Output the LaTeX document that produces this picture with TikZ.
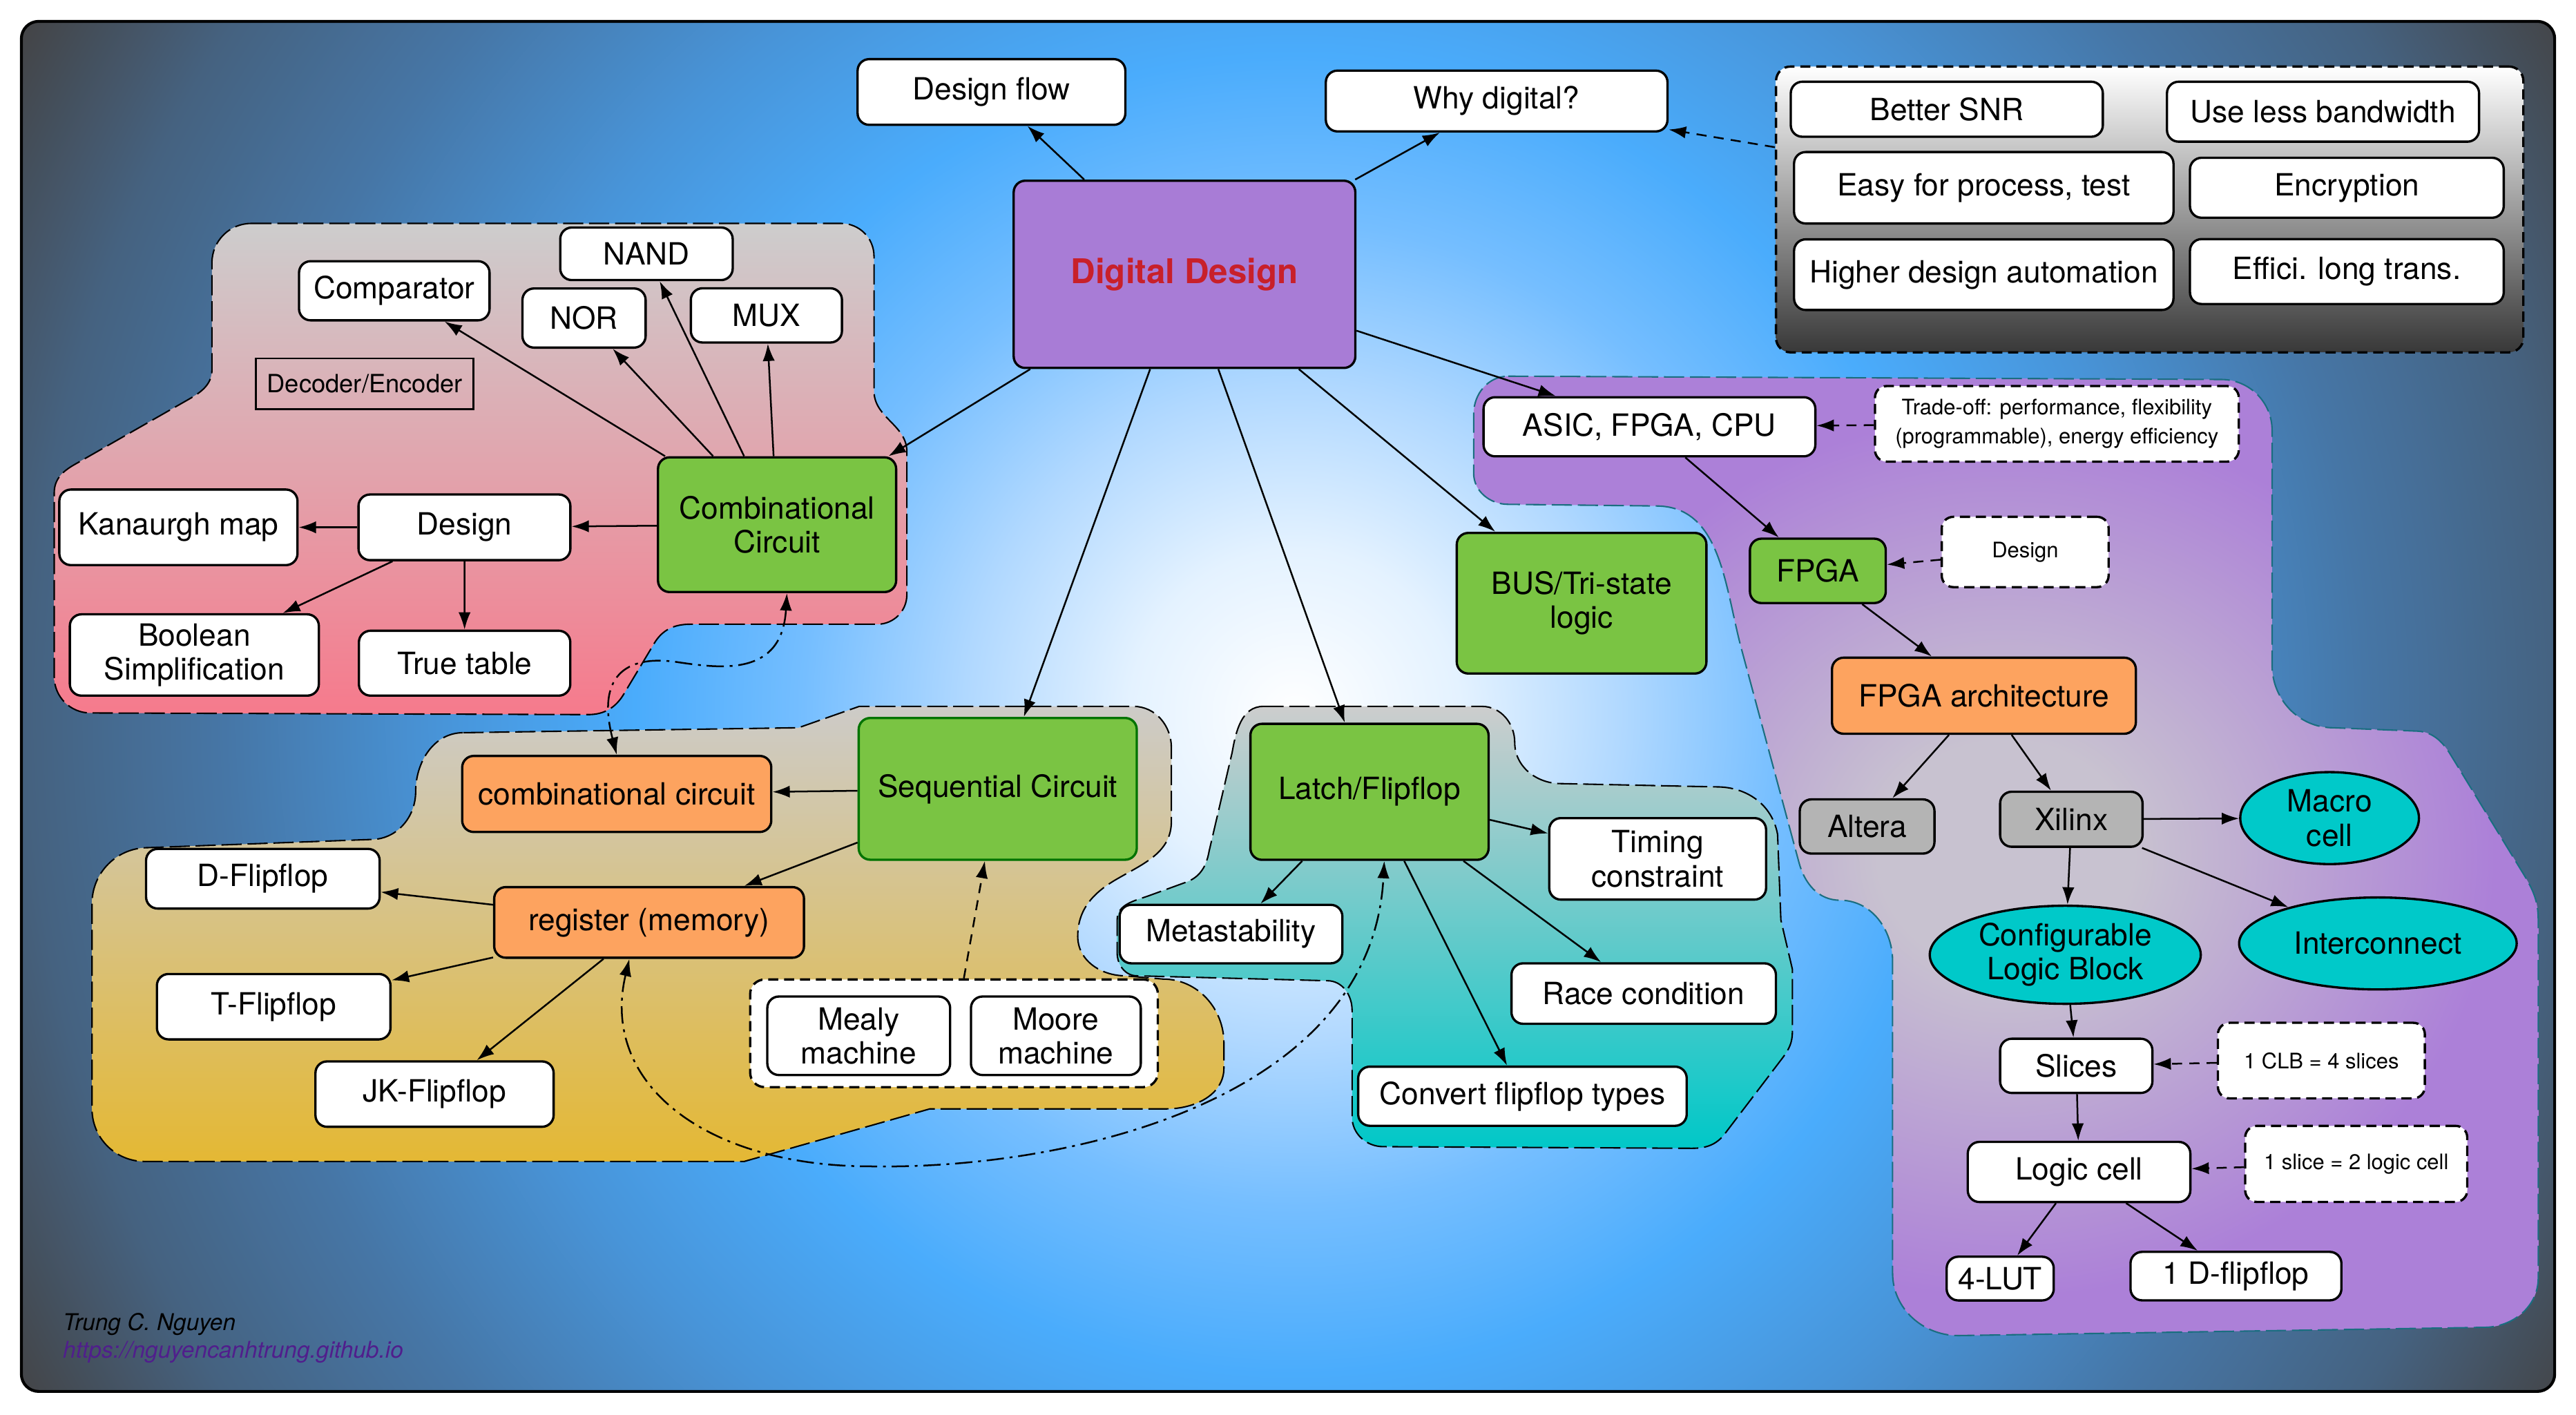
\documentclass[tikz,border=0pt]{standalone}
\usepackage{fontspec}
\setmainfont{TeX Gyre Heros}
\usetikzlibrary{arrows.meta, shapes.geometric, calc}

\newcommand{\boxfont}{\fontsize{10.6}{11.8}\selectfont}
\newcommand{\smallnotefont}{\fontsize{7.4}{10}\selectfont}
\newcommand{\decfont}{\fontsize{8.7}{10}\selectfont}
\newcommand{\titlefont}{\fontsize{11.8}{14}\selectfont\bfseries}
\newcommand{\signfont}{\fontsize{8}{10}\selectfont\itshape}

\begin{document}
\begin{tikzpicture}[x=0.02cm, y=-0.02cm,
	sz/.style 2 args={minimum width=#1*0.2mm, minimum height=#2*0.2mm},
	box/.style={draw, fill=white, rounded corners=4pt, line width=0.8pt, inner sep=2pt, align=center, font=\boxfont},
	greenbox/.style={box, fill=cgreen},
	orangebox/.style={box, fill=corange},
	greybox/.style={box, fill=cgrey},
	cellipse/.style={draw, ellipse, fill=ccyan, line width=0.8pt, inner sep=1pt, align=center, font=\boxfont},
	memo/.style={box, dash pattern=on 3.5pt off 2pt, font=\smallnotefont},
	panelbox/.style={draw, dash pattern=on 3.5pt off 2pt, rounded corners=5pt, line width=0.8pt},
	grp/.style={draw=black, line width=0.5pt, dash pattern=on 7pt off 2pt},
	arr/.style={-{Latex[length=6pt,width=4.2pt]}, line width=0.6pt},
	darr/.style={arr, dash pattern=on 3.5pt off 2.5pt},
	ddarr/.style={{Latex[length=6pt,width=4.2pt]}-{Latex[length=6pt,width=4.2pt]}, line width=0.6pt, dash pattern=on 6pt off 2pt on 1pt off 2pt}]
	% Colors
	\definecolor{bgA}{RGB}{228,242,255}
	\definecolor{bgB}{RGB}{176,216,255}
	\definecolor{bgC}{RGB}{117,190,255}
	\definecolor{bgD}{RGB}{74,172,252}
	\definecolor{bgE}{RGB}{72,148,216}
	\definecolor{bgF}{RGB}{70,118,166}
	\definecolor{bgG}{RGB}{69,98,128}
	\definecolor{bgH}{RGB}{68,68,70}
	\definecolor{cgreen}{RGB}{122,196,67}
	\definecolor{corange}{RGB}{253,163,95}
	\definecolor{cgrey}{RGB}{180,180,180}
	\definecolor{ccyan}{RGB}{0,201,201}
	\definecolor{cpurple}{RGB}{168,124,214}
	\definecolor{cred}{RGB}{200,32,42}
	\definecolor{curl}{RGB}{80,30,140}
	\definecolor{pinktop}{RGB}{205,205,205}
	\definecolor{pinkbot}{RGB}{246,122,140}
	\definecolor{tantop}{RGB}{205,203,200}
	\definecolor{tanbot}{RGB}{228,184,52}
	\definecolor{tealtop}{RGB}{205,205,205}
	\definecolor{tealbot}{RGB}{0,200,200}
	\definecolor{purin}{RGB}{200,194,208}
	\definecolor{purout}{RGB}{172,128,216}
	\definecolor{grpteal}{RGB}{26,110,128}
	\pgfdeclareradialshading{bgglow}{\pgfpoint{0bp}{0bp}}{color(0bp)=(white); color(2.85bp)=(bgA); color(5.7bp)=(bgB); color(8.5bp)=(bgC); color(11.4bp)=(bgD); color(14.8bp)=(bgE); color(18.5bp)=(bgF); color(21.9bp)=(bgG); color(25bp)=(bgH); color(50bp)=(bgH)}
	\pgfdeclareradialshading{purglow}{\pgfpoint{0bp}{0bp}}{color(0bp)=(purin); color(6bp)=(purin); color(23bp)=(purout); color(50bp)=(purout)}
	
	\useasboundingbox (0,0) rectangle (1568,861.3);
	
	% Background
	\begin{scope}
		\clip[rounded corners=6pt] (13,13) rectangle (1555,847);
		\shade[shading=bgglow] (-92,-445) rectangle (1668,1315);
	\end{scope}
	\draw[line width=1pt, rounded corners=6pt] (13,13) rectangle (1555,847);
	
	% Groups
	\path[grp, top color=pinktop, bottom color=pinkbot] (153,136) -- (512,136) to[out=0,in=90] (532,156) -- (532,238) to[out=-90,in=90] (552,275) -- (552,362) to[out=-90,in=0] (534,380) -- (420,380) to[out=180,in=60] (398,392) -- (380,422) to[out=240,in=0] (358,435) -- (55,434) to[out=180,in=-90] (33,412) -- (33,300) to[out=90,in=210] (45,283) -- (115,243) to[out=30,in=-90] (129,225) -- (129,160) to[out=90,in=180] (153,136) -- cycle;
	\path[grp, top color=tantop, bottom color=tanbot] (282,446) -- (486,443) -- (523,430) -- (690,430) to[out=0,in=90] (713,455) -- (713,500) to[out=-90,in=30] (680,535) to[out=210,in=90] (656,570) to[out=-90,in=180] (685,594) -- (708,596) to[out=0,in=90] (745,635) -- (745,650) to[out=-90,in=0] (710,675) -- (566,675) -- (453,707) -- (88,707) to[out=180,in=-90] (56,675) -- (56,550) to[out=90,in=180] (90,516) -- (226,511) to[out=0,in=-90] (253,482) to[out=90,in=180] (282,446) -- cycle;
	\path[grp, top color=tealtop, bottom color=tealbot] (769,430) -- (902,430) to[out=0,in=90] (922,452) to[out=-90,in=180] (950,477) -- (1045,479) to[out=0,in=100] (1082,508) -- (1084,560) -- (1091,590) -- (1091,628) to[out=-90,in=53] (1085,644) -- (1050,690) to[out=233,in=0] (1030,699) -- (842,698) to[out=180,in=-90] (823,680) -- (823,615) to[out=90,in=0] (808,597) -- (692,594) to[out=180,in=-90] (680,580) -- (680,560) to[out=90,in=200] (700,545) -- (722,537) to[out=20,in=-100] (736,518) -- (750,458) to[out=80,in=180] (769,430) -- cycle;
	\path[grp, draw=grpteal, shading=purglow] (918,229) -- (1352,231) to[out=0,in=90] (1383,262) -- (1383,405) to[out=-90,in=180] (1420,443) -- (1470,445) to[out=0,in=121] (1492,460) -- (1536,532) to[out=-59,in=90] (1545,560) -- (1545,778) to[out=-90,in=0] (1512,808) -- (1192,813) to[out=180,in=-90] (1152,775) -- (1152,585) to[out=90,in=0] (1120,548) to[out=180,in=-75] (1095,525) -- (1060,395) to[out=105,in=0] (1008,308) -- (918,307) to[out=180,in=-90] (897,288) -- (897,252) to[out=90,in=180] (918,229) -- cycle;
	
	% Centre and top
	\node[box, fill=cpurple, sz={208}{114}, font=\titlefont, text=cred] (dd) at (721,167) {Digital Design};
	\node[box, sz={163}{40}] (dflow) at (603.5,56) {Design flow};
	\node[box, sz={208}{37}] (why) at (911,61.5) {Why digital?};
	
	% Why digital panel
	\node[panelbox, top color=white, middle color=black!30, bottom color=black!78, sz={455}{174}] (whypanel) at (1308.5,127.5) {};
	\node[box, sz={190}{33.5}] (snr) at (1185,66.5) {Better SNR};
	\node[box, sz={190}{36.5}] (bandw) at (1414,68) {Use less bandwidth};
	\node[box, sz={231}{43.5}] (easy) at (1207.5,114.3) {Easy for process, test};
	\node[box, sz={191}{36.5}] (encr) at (1428.5,114.3) {Encryption};
	\node[box, sz={231}{43}] (autom) at (1207.5,167.2) {Higher design automation};
	\node[box, sz={191}{39.5}] (effic) at (1428.5,165.3) {Effici. long trans.};
	
	% Combinational circuit
	\node[greenbox, sz={145}{82}] (comb) at (473,319.4) {Combinational\\Circuit};
	\node[box, sz={116}{36}] (comp) at (240,177) {Comparator};
	\node[box, sz={105}{32}] (nand) at (393.5,154.5) {NAND};
	\node[box, sz={75}{36}] (nor) at (355.5,193.6) {NOR};
	\node[box, sz={92}{33}] (mux) at (466.5,192) {MUX};
	\node[draw, line width=0.6pt, font=\decfont, sz={132.5}{31}] (decenc) at (222,233.6) {Decoder/Encoder};
	\node[box, sz={129}{40}] (cdesign) at (282.7,321) {Design};
	\node[box, sz={145}{46}] (kmap) at (108.6,321) {Kanaurgh map};
	\node[box, sz={151.6}{49.5}] (boolsimp) at (118.3,398.7) {Boolean\\Simplification};
	\node[box, sz={128.7}{39.5}] (truetab) at (282.8,403.7) {True table};
	
	% Sequential circuit
	\node[greenbox, draw=green!45!black, sz={169.3}{86.3}] (seq) at (607.3,480.2) {Sequential Circuit};
	\node[orangebox, sz={188.2}{46.3}] (ccirc) at (375.4,483.3) {combinational circuit};
	\node[orangebox, sz={188.6}{43}] (reg) at (395.1,561.5) {register (memory)};
	\node[box, sz={142.2}{36.3}] (dff) at (160,534.9) {D-Flipflop};
	\node[box, sz={142.2}{39.8}] (tff) at (166.6,612.8) {T-Flipflop};
	\node[box, sz={145}{39.8}] (jkff) at (264.5,666) {JK-Flipflop};
	\node[panelbox, fill=white, sz={248.2}{65.5}] (mmpanel) at (580.7,629) {};
	\node[box, sz={111.3}{47.8}] (mealy) at (522.7,630.5) {Mealy\\machine};
	\node[box, sz={103.4}{47.8}] (moore) at (642.7,630.5) {Moore\\machine};
	
	% Latch/Flipflop
	\node[greenbox, sz={145}{82.8}] (latch) at (833.6,482) {Latch/Flipflop};
	\node[box, sz={135.6}{35.6}] (meta) at (749.3,568.6) {Metastability};
	\node[box, sz={132}{49.6}] (timing) at (1009,522.8) {Timing\\constraint};
	\node[box, sz={161}{36.8}] (race) at (1000.5,604.8) {Race condition};
	\node[box, sz={200}{36}] (conv) at (926.7,667.3) {Convert flipflop types};
	
	% BUS
	\node[greenbox, sz={152}{85.6}] (bus) at (962.7,367.2) {BUS/Tri-state\\logic};
	
	% FPGA
	\node[box, sz={202}{36}] (asic) at (1004,259.8) {ASIC, FPGA, CPU};
	\node[memo, sz={221.5}{46}] (tradeoff) at (1252,258) {Trade-off: performance, flexibility\\(programmable), energy efficiency};
	\node[greenbox, sz={82.7}{39.2}] (fpga) at (1106.5,347.5) {FPGA};
	\node[memo, sz={101.6}{42.8}] (fdesign) at (1232.7,336) {Design};
	\node[orangebox, sz={185}{46.3}] (arch) at (1207.6,423.5) {FPGA architecture};
	\node[greybox, sz={82}{33}] (altera) at (1136.5,503.1) {Altera};
	\node[greybox, sz={86.7}{33.5}] (xilinx) at (1260.8,498.7) {Xilinx};
	\node[cellipse, sz={108.8}{56}] (macro) at (1418,498) {Macro\\cell};
	\node[cellipse, sz={169}{56}] (inter) at (1447.4,574.3) {Interconnect};
	\node[cellipse, sz={165}{56.6}] (clb) at (1257.1,581.2) {Configurable\\Logic Block};
	\node[box, sz={92.7}{33}] (slices) at (1263.8,648.8) {Slices};
	\node[memo, sz={126}{46}] (clbnote) at (1413,645.6) {1 CLB = 4 slices};
	\node[box, sz={135.5}{36.6}] (lcell) at (1265.5,713.4) {Logic cell};
	\node[memo, sz={135.2}{46.3}] (slicenote) at (1434.2,708.5) {1 slice = 2 logic cell};
	\node[box, sz={65.2}{26.6}] (lut) at (1217.5,778.3) {4-LUT};
	\node[box, sz={128.4}{29.5}] (dflop) at (1361,776.8) {1 D-flipflop};
	
	% Signature
	\node[anchor=west, inner sep=0, font=\signfont] (author) at (38,806) {Trung C. Nguyen};
	\node[anchor=west, inner sep=0, font=\signfont, text=curl] (url) at (38,823) {https://nguyencanhtrung.github.io};
	
	% Arrows from the centre
	\foreach \t in {dflow,why,asic,comb,seq,latch,bus}
	\draw[arr] (dd) -- (\t);
	\draw[darr] (whypanel) -- (why);
	
	% Arrows combinational
	\foreach \t in {comp,nor,nand,mux,cdesign}
	\draw[arr] (comb) -- (\t);
	\foreach \t in {kmap,boolsimp,truetab}
	\draw[arr] (cdesign) -- (\t);
	\draw[ddarr] (ccirc.north) .. controls (362,408) and (385,399) .. (412,403) .. controls (439,407) and (476,412) .. ($(comb.south)+(6,0)$);
	
	% Arrows sequential
	\draw[arr] (seq) -- (ccirc);
	\draw[arr] (seq) -- (reg);
	\foreach \t in {dff,tff,jkff}
	\draw[arr] (reg) -- (\t);
	\draw[darr] (mmpanel) -- (seq);
	\draw[ddarr] ($(reg.south)+(-12,0)$) .. controls (365,660) and (430,710) .. (530,710) .. controls (650,712) and (835,670) .. ($(latch.south)+(9,0)$);
	
	% Arrows latch
	\foreach \t in {meta,timing,race,conv}
	\draw[arr] (latch) -- (\t);
	
	% Arrows FPGA
	\draw[darr] (tradeoff) -- (asic);
	\draw[arr] (asic) -- (fpga);
	\draw[darr] (fdesign) -- (fpga);
	\draw[arr] (fpga) -- (arch);
	\draw[arr] (arch) -- (altera);
	\draw[arr] (arch) -- (xilinx);
	\foreach \t in {macro,inter,clb}
	\draw[arr] (xilinx) -- (\t);
	\draw[arr] (clb) -- (slices);
	\draw[darr] (clbnote) -- (slices);
	\draw[arr] (slices) -- (lcell);
	\draw[darr] (slicenote) -- (lcell);
	\draw[arr] (lcell) -- (lut);
	\draw[arr] (lcell) -- (dflop);
	
\end{tikzpicture}
\end{document}
